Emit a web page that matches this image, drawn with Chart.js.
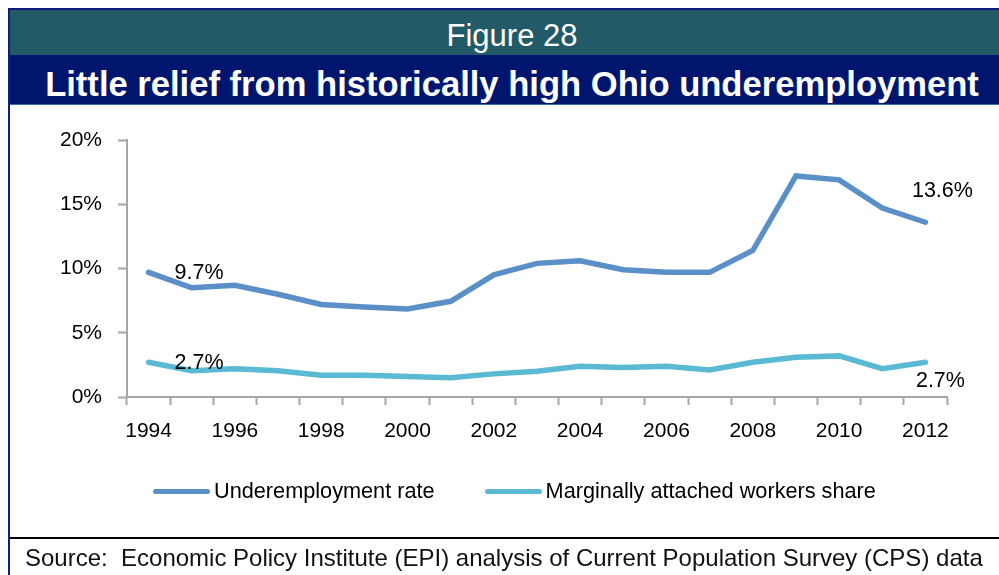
<!DOCTYPE html>
<html>
<head>
<meta charset="utf-8">
<script src="https://cdn.jsdelivr.net/npm/chart.js@4.4.0/dist/chart.umd.min.js"></script>
<style>
    html, body { margin: 0; padding: 0; background: #fff; }
    body { width: 999px; height: 575px; position: relative; overflow: hidden; font-family: 'Liberation Sans', Arial, sans-serif; }
    .box { position: absolute; }
    #topLine { left: 8px; top: 8px; width: 991px; height: 2px; background: #0d1f7a; }
    #leftLine { left: 8px; top: 8px; width: 2px; height: 567px; background: #0d1f7a; }
    #figBand { left: 10px; top: 10px; width: 989px; height: 45px; background: #225a68; }
    #titleBand { left: 10px; top: 55px; width: 989px; height: 49px; background: #00166e; }
    #underLine { left: 10px; top: 104px; width: 989px; height: 1px; background: #3d6fae; }
    #figLabel { left: 10px; width: 1004px; top: 20px; text-align: center; color: #fff; font-size: 31px; line-height: 31px; }
    #title { left: 10px; width: 1004px; top: 67px; text-align: center; color: #fff; font-size: 34.6px; line-height: 34.6px; font-weight: bold; white-space: nowrap; }
    #chartWrap { left: 10px; top: 106px; width: 989px; height: 469px; }
    #legend { left: 153px; top: 478px; height: 26px; display: flex; align-items: center; font-size: 21.7px; color: #000; white-space: nowrap; }
    .legend-item { display: flex; align-items: center; margin-right: 50px; }
    .legend-swatch { width: 57px; height: 5px; border-radius: 2.5px; margin-right: 4px; }
    #sourceLine { left: 10px; top: 537px; width: 989px; height: 2px; background: #000; }
    #source { left: 25px; top: 546px; font-size: 24px; line-height: 24px; color: #111; white-space: nowrap; }
</style>
</head>
<body>
<div class="box" id="figBand"></div>
<div class="box" id="titleBand"></div>
<div class="box" id="underLine"></div>
<div class="box" id="topLine"></div>
<div class="box" id="leftLine"></div>
<div class="box" id="figLabel">Figure 28</div>
<div class="box" id="title">Little relief from historically high Ohio underemployment</div>
<div class="box" id="chartWrap"><canvas id="lineChart"></canvas></div>
<div class="box" id="legend"></div>
<div class="box" id="sourceLine"></div>
<div class="box" id="source">Source:&nbsp; Economic Policy Institute (EPI) analysis of Current Population Survey (CPS) data</div>

<script>
const years = ['1994', '1995', '1996', '1997', '1998', '1999', '2000', '2001', '2002', '2003',
    '2004', '2005', '2006', '2007', '2008', '2009', '2010', '2011', '2012'];
const underemployment = [9.7, 8.5, 8.7, 8.0, 7.2, 7.0, 6.85, 7.45, 9.5, 10.4,
    10.6, 9.9, 9.7, 9.7, 11.4, 17.2, 16.9, 14.7, 13.6];
const marginallyAttached = [2.7, 2.05, 2.2, 2.05, 1.7, 1.7, 1.6, 1.5, 1.8, 2.0,
    2.4, 2.3, 2.4, 2.1, 2.7, 3.1, 3.2, 2.2, 2.7];
const yTicks = [0, 5, 10, 15, 20];
const seriesNames = ['Underemployment rate', 'Marginally attached workers share'];

// which points get a value label, and where the label sits relative to the point
const pointLabels = [
    { series: 0, index: 0, dx: 26, dy: 1, align: 'left' },
    { series: 1, index: 0, dx: 26, dy: 1, align: 'left' },
    { series: 0, index: 18, dx: 17, dy: -31, align: 'center' },
    { series: 1, index: 18, dx: 15, dy: 19, align: 'center' }
];

const fontFamily = "'Liberation Sans', Arial, sans-serif";
const axisGray = '#a6a6a6';

const valueLabels = {
    id: 'valueLabels',
    afterDatasetsDraw(chart) {
        const ctx = chart.ctx;
        ctx.save();
        ctx.font = `21.5px ${fontFamily}`;
        ctx.fillStyle = '#000';
        ctx.textBaseline = 'middle';
        pointLabels.forEach(note => {
            const point = chart.getDatasetMeta(note.series).data[note.index];
            const value = chart.data.datasets[note.series].data[note.index];
            ctx.textAlign = note.align;
            ctx.fillText(`${value}%`, point.x + note.dx, point.y + note.dy);
        });
        ctx.restore();
    }
};

const chart = new Chart(document.getElementById('lineChart'), {
    type: 'line',
    data: {
        labels: years,
        datasets: [{
            label: seriesNames[0],
            data: underemployment,
            borderColor: '#5b8fc8',
            backgroundColor: '#5b8fc8',
            borderWidth: 5.5,
            borderCapStyle: 'round',
            pointRadius: 0,
            tension: 0
        }, {
            label: seriesNames[1],
            data: marginallyAttached,
            borderColor: '#5bbad3',
            backgroundColor: '#5bbad3',
            borderWidth: 5.5,
            borderCapStyle: 'round',
            pointRadius: 0,
            tension: 0
        }]
    },
    options: {
        responsive: true,
        maintainAspectRatio: false,
        animation: false,
        events: [],
        layout: {
            padding: { top: 34, right: 52, bottom: 128, left: 0 }
        },
        plugins: {
            tooltip: { enabled: false },
            legend: { display: false }
        },
        scales: {
            x: {
                offset: true,
                afterFit(scale) { scale.height = 50; },
                grid: {
                    offset: true,
                    drawOnChartArea: false,
                    drawTicks: true,
                    tickLength: 8,
                    tickWidth: 2,
                    color: axisGray
                },
                border: { color: axisGray, width: 2 },
                ticks: {
                    autoSkip: false,
                    maxRotation: 0,
                    padding: 14,
                    color: '#000',
                    font: { family: fontFamily, size: 21 },
                    callback(value, index) {
                        const year = this.getLabelForValue(value);
                        return index % 2 === 0 ? year : '';
                    }
                }
            },
            y: {
                min: yTicks[0],
                max: yTicks[yTicks.length - 1],
                afterFit(scale) { scale.width = 117; },
                afterBuildTicks(scale) { scale.ticks = yTicks.map(v => ({ value: v })); },
                grid: {
                    drawOnChartArea: false,
                    drawTicks: true,
                    tickLength: 9,
                    tickWidth: 2,
                    color: axisGray
                },
                border: { color: axisGray, width: 2 },
                ticks: {
                    padding: 16,
                    color: '#000',
                    font: { family: fontFamily, size: 21 },
                    callback: value => `${value}%`
                }
            }
        }
    },
    plugins: [valueLabels]
});

// legend below the chart, built from the datasets
const legend = document.getElementById('legend');
chart.data.datasets.forEach(dataset => {
    const item = document.createElement('div');
    item.className = 'legend-item';
    const swatch = document.createElement('span');
    swatch.className = 'legend-swatch';
    swatch.style.background = dataset.borderColor;
    const text = document.createElement('span');
    text.textContent = dataset.label;
    item.appendChild(swatch);
    item.appendChild(text);
    legend.appendChild(item);
});
</script>
</body>
</html>
